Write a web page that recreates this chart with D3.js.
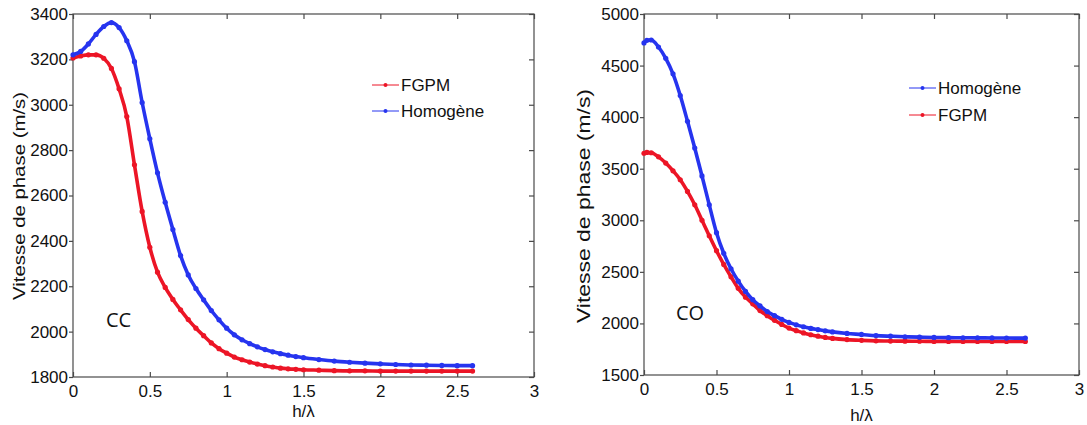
<!DOCTYPE html>
<html>
<head>
<meta charset="utf-8">
<script src="https://cdn.jsdelivr.net/npm/d3@7"></script>
<style>
  html, body { margin: 0; padding: 0; background: #fff; }
  svg { display: block; }
  text { font-family: "Liberation Sans", Arial, sans-serif; fill: #111; }
</style>
</head>
<body>
<svg id="chart" width="1087" height="425"></svg>
<script>
// ---------- DATA ----------
const xTicks = [0, 0.5, 1, 1.5, 2, 2.5, 3];
const yTicksCC = [1800, 2000, 2200, 2400, 2600, 2800, 3000, 3200, 3400];
const yTicksCO = [1500, 2000, 2500, 3000, 3500, 4000, 4500, 5000];

// Panel CC (left)
const hCC = [0, 0.05, 0.1, 0.15, 0.2, 0.25, 0.3, 0.35, 0.4, 0.45, 0.5, 0.55, 0.6, 0.65, 0.7, 0.75,
  0.8, 0.85, 0.9, 0.95, 1.0, 1.05, 1.1, 1.15, 1.2, 1.25, 1.3, 1.35, 1.4, 1.45, 1.5,
  1.6, 1.7, 1.8, 1.9, 2.0, 2.1, 2.2, 2.3, 2.4, 2.5, 2.6];
const ccHomogene = [3220, 3235, 3268, 3310, 3345, 3362, 3340, 3282, 3190, 3010, 2850, 2700, 2570, 2450, 2335, 2250,
  2190, 2140, 2093, 2052, 2015, 1986, 1964, 1947, 1933, 1921, 1911, 1903, 1896, 1890, 1885,
  1877, 1870, 1865, 1861, 1858, 1855, 1853, 1852, 1851, 1850, 1850];
const ccFGPM = [3206, 3215, 3220, 3220, 3205, 3160, 3070, 2948, 2735, 2530, 2372, 2262, 2195, 2142, 2096, 2053,
  2015, 1982, 1950, 1925, 1905, 1888, 1876, 1866, 1857, 1850, 1844, 1839, 1836, 1834, 1832,
  1830, 1828, 1827, 1827, 1826, 1826, 1826, 1826, 1826, 1826, 1826];

// Panel CO (right)
const hCO = [0, 0.02, 0.05, 0.1, 0.15, 0.2, 0.25, 0.3, 0.35, 0.4, 0.45, 0.5, 0.55, 0.6, 0.65, 0.7, 0.75,
  0.8, 0.85, 0.9, 0.95, 1.0, 1.05, 1.1, 1.15, 1.2, 1.25, 1.3, 1.4, 1.5,
  1.6, 1.7, 1.8, 1.9, 2.0, 2.1, 2.2, 2.3, 2.4, 2.5, 2.63];
const coHomogene = [4720, 4745, 4748, 4680, 4570, 4420, 4210, 3960, 3700, 3430, 3150, 2880, 2680, 2530, 2410, 2310, 2230,
  2170, 2115, 2075, 2040, 2010, 1986, 1968, 1952, 1940, 1928, 1918, 1903, 1893,
  1882, 1876, 1871, 1867, 1864, 1862, 1861, 1860, 1859, 1858, 1858];
const coFGPM = [3650, 3658, 3655, 3615, 3555, 3480, 3393, 3280, 3150, 3000, 2850, 2705, 2572, 2452, 2340, 2255, 2190,
  2125, 2075, 2030, 1990, 1955, 1930, 1908, 1890, 1876, 1864, 1855, 1843, 1836,
  1831, 1829, 1828, 1827, 1826, 1826, 1825, 1825, 1825, 1825, 1825];

const legendCC = ["FGPM", "Homogène"];
const legendCO = ["Homogène", "FGPM"];

// ---------- DRAW ----------
const BLUE = "#2634ef", RED = "#ec1526";
const svg = d3.select("#chart");

const panels = [
  { x0: 73, x1: 534, y0: 14, y1: 377, yDomain: [1800, 3400], yTicks: yTicksCC, h: hCC,
    series: [{ name: "FGPM", v: ccFGPM, c: RED }, { name: "Homogène", v: ccHomogene, c: BLUE }],
    legend: legendCC, legX: 372, legY: 85, legStep: 26,
    tag: "CC", tagX: 106, tagY: 327,
    ylabX: 19, ylabY: 196, ylabLen: 208, ylabSize: 17, xlabY: 417 },
  { x0: 644, x1: 1079, y0: 14, y1: 375, yDomain: [1500, 5000], yTicks: yTicksCO, h: hCO,
    series: [{ name: "FGPM", v: coFGPM, c: RED }, { name: "Homogène", v: coHomogene, c: BLUE }],
    legend: legendCO, legX: 909, legY: 88, legStep: 27,
    tag: "CO", tagX: 676, tagY: 320,
    ylabX: 584, ylabY: 206, ylabLen: 234, ylabSize: 18, xlabY: 421 }
];

const colorOf = { "FGPM": RED, "Homogène": BLUE };

panels.forEach(p => {
  const x = d3.scaleLinear().domain([0, 3]).range([p.x0, p.x1]);
  const y = d3.scaleLinear().domain(p.yDomain).range([p.y1, p.y0]);
  const g = svg.append("g");

  // frame
  g.append("rect").attr("x", p.x0).attr("y", p.y0)
    .attr("width", p.x1 - p.x0).attr("height", p.y1 - p.y0)
    .attr("fill", "none").attr("stroke", "#4a4a4a").attr("stroke-width", 1.2);

  const fmt = d3.format("~g");
  const styleAxis = (sel) => {
    sel.select(".domain").remove();
    sel.selectAll(".tick line").attr("stroke", "#4a4a4a").attr("stroke-width", 1.2);
    sel.selectAll(".tick text").style("font-family", "'Liberation Sans', Arial, sans-serif")
      .style("font-size", "17px").attr("fill", "#111");
  };

  g.append("g").attr("transform", `translate(0,${p.y1})`)
    .call(d3.axisBottom(x).tickValues(xTicks).tickFormat(fmt).tickSize(-5).tickPadding(8))
    .call(styleAxis);
  g.append("g").attr("transform", `translate(0,${p.y0})`)
    .call(d3.axisTop(x).tickValues(xTicks).tickFormat("").tickSize(-5))
    .call(styleAxis);
  g.append("g").attr("transform", `translate(${p.x0},0)`)
    .call(d3.axisLeft(y).tickValues(p.yTicks).tickFormat(d3.format("d")).tickSize(4).tickPadding(1))
    .call(styleAxis);
  g.append("g").attr("transform", `translate(${p.x1},0)`)
    .call(d3.axisRight(y).tickValues(p.yTicks).tickFormat("").tickSize(-5))
    .call(styleAxis);

  // series
  const line = d3.line().x(d => x(d[0])).y(d => y(d[1])).curve(d3.curveMonotoneX);
  p.series.forEach(s => {
    const pts = p.h.map((h, i) => [h, s.v[i]]);
    g.append("path").datum(pts).attr("d", line)
      .attr("fill", "none").attr("stroke", s.c).attr("stroke-width", 3.6)
      .attr("stroke-linejoin", "round").attr("stroke-linecap", "round");
    g.append("g").selectAll("circle").data(pts).join("circle")
      .attr("cx", d => x(d[0])).attr("cy", d => y(d[1])).attr("r", 2.6).attr("fill", s.c);
  });

  // legend
  p.legend.forEach((name, i) => {
    const ly = p.legY + i * p.legStep;
    const c = colorOf[name];
    g.append("line").attr("x1", p.legX).attr("x2", p.legX + 27).attr("y1", ly).attr("y2", ly)
      .attr("stroke", c).attr("stroke-width", 1);
    g.append("circle").attr("cx", p.legX + 13.5).attr("cy", ly).attr("r", 2).attr("fill", c);
    g.append("text").attr("x", p.legX + 29).attr("y", ly + 6)
      .style("font-size", "17px").text(name);
  });

  // tag
  g.append("text").attr("x", p.tagX).attr("y", p.tagY)
    .style("font-family", "'Open Sans', sans-serif").style("font-size", "20px").text(p.tag);

  // axis labels
  g.append("text").attr("x", (p.x0 + p.x1) / 2).attr("y", p.xlabY)
    .attr("text-anchor", "middle").style("font-size", "17px").text("h/λ");
  g.append("text")
    .attr("transform", `translate(${p.ylabX + 6},${p.ylabY}) rotate(-90)`)
    .attr("text-anchor", "middle")
    .attr("textLength", p.ylabLen).attr("lengthAdjust", "spacingAndGlyphs")
    .style("font-size", p.ylabSize + "px").text("Vitesse de phase (m/s)");
});
</script>
</body>
</html>
